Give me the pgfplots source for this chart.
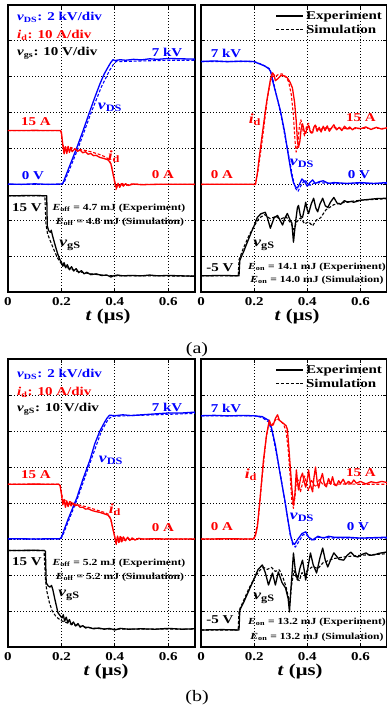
\documentclass[border=0pt]{standalone}
\usepackage{pgfplots}
\pgfplotsset{compat=1.18}
\usepackage{graphicx}
\usepackage{fontspec}
\setmainfont{Liberation Serif}
\newcommand{\fs}[1]{\fontsize{#1}{#1}\selectfont\bfseries}
\newcommand{\T}[1]{\scalebox{1.25}[1]{#1}}
\newcommand{\vDS}{\textit{v}\textsubscript{DS}}
\newcommand{\idd}{\textit{i}\textsubscript{d}}
\newcommand{\vgS}{\textit{v}\textsubscript{gS}}
\newcommand{\vgs}{\textit{v}\textsubscript{gs}}
\newcommand{\Eoff}{\textit{E}\textsubscript{off}}
\newcommand{\Eon}{\textit{E}\textsubscript{on}}
\pgfplotsset{
 panel/.style={scale only axis, width=187pt, height=287pt, xmin=0, xmax=0.7, ymin=0, ymax=8,
   xtick={0,0.2,0.4,0.6}, xticklabels={\T{0},\T{0.2},\T{0.4},\T{0.6}},
   ytick={1,2,3,4,5,6,7}, yticklabels={},
   grid=major, major grid style={black, line width=0.8pt, dash pattern=on 0.9pt off 2.1pt},
   tick align=inside, major tick length=4pt, tick style={black, line width=0.8pt},
   axis line style={line width=1.3pt},
   xticklabel style={font=\fs{12}, inner sep=0pt, yshift=-5pt},
   no markers, anchor=south west, clip=true},
 ex/.style={line width=1.3pt, line join=round, forget plot},
 si/.style={line width=1.1pt, dash pattern=on 3pt off 1.8pt, line join=round, forget plot},
 vds/.style={blue, y filter/.expression={y/2+3}},
 cur/.style={red, y filter/.expression={y/10+3}},
 vgsf/.style={black, y filter/.expression={0.45+(y+5)*0.1115}},
 leg/.style={legend style={draw=none, fill=none, at={(axis description cs:0.99,0.99)}, anchor=north east, font=\fs{12}, row sep=0pt, inner sep=1pt},
   legend cell align=left,
   legend image code/.code={\draw[##1] (0pt,0pt) -- (27pt,0pt);}},
}
\begin{document}
\begin{tikzpicture}
% ---------------- (a) left: turn-off
\begin{axis}[panel, at={(8pt,422pt)}]
\addplot[vds,ex] coordinates {(0,0.02) (0.05,0) (0.1,0.03) (0.15,0) (0.2,0.02) (0.206,0.08) (0.23,1.0) (0.258,2.06) (0.28,2.95) (0.307,4.1) (0.325,4.85) (0.344,5.6) (0.36,6.15) (0.375,6.55) (0.385,6.8) (0.393,6.95) (0.4,6.9) (0.42,6.95) (0.44,6.92) (0.47,6.97) (0.5,6.94) (0.53,7.0) (0.56,6.97) (0.6,7.02) (0.65,7.0) (0.7,6.98)};
\addplot[vds,si] coordinates {(0,0) (0.2,0) (0.21,0.1) (0.235,1.0) (0.262,2.0) (0.31,3.95) (0.35,5.45) (0.38,6.35) (0.395,6.7) (0.405,6.85) (0.43,6.85) (0.5,6.88) (0.6,6.92) (0.7,6.92)};
\addplot[cur,ex] coordinates {(0,15) (0.1,15.05) (0.195,15) (0.2,14.5) (0.205,11) (0.21,8.5) (0.215,10.5) (0.22,8.6) (0.225,10.6) (0.23,8.9) (0.235,10.2) (0.24,9.1) (0.25,9.9) (0.26,9.2) (0.27,9.6) (0.28,8.8) (0.29,9.1) (0.3,8.4) (0.31,8.6) (0.32,8.0) (0.33,8.1) (0.344,7.5) (0.36,7.2) (0.375,6.8) (0.385,5.8) (0.393,3) (0.402,0) (0.407,-1) (0.412,0.3) (0.418,-0.8) (0.424,0.2) (0.432,-0.5) (0.44,0.2) (0.45,-0.3) (0.47,0.1) (0.5,-0.1) (0.55,0) (0.6,0.05) (0.7,0)};
\addplot[cur,si] coordinates {(0,15) (0.198,15) (0.203,12) (0.21,9.8) (0.218,10.6) (0.226,9.7) (0.235,10.3) (0.25,9.8) (0.28,9.6) (0.31,9.1) (0.34,8.4) (0.36,7.8) (0.378,7) (0.388,5) (0.397,1.5) (0.404,-1.5) (0.41,0) (0.418,-0.8) (0.426,0.3) (0.44,-0.3) (0.46,0.1) (0.5,0) (0.7,0)};
\addplot[vgsf,ex] coordinates {(0,15) (0.1,15.1) (0.145,15) (0.147,7.5) (0.152,6.3) (0.158,5.9) (0.162,6.4) (0.166,5.2) (0.175,3) (0.185,0.7) (0.193,-0.8) (0.2,-1.6) (0.205,-2.6) (0.21,-1.7) (0.216,-3.0) (0.222,-2.2) (0.23,-3.5) (0.238,-2.7) (0.246,-3.8) (0.255,-3.2) (0.265,-4.2) (0.275,-3.7) (0.285,-4.5) (0.295,-4.1) (0.31,-4.7) (0.33,-4.5) (0.35,-4.9) (0.37,-4.8) (0.385,-5.3) (0.395,-5.0) (0.41,-4.8) (0.43,-5.0) (0.46,-4.9) (0.5,-5.0) (0.53,-4.8) (0.56,-5.0) (0.6,-4.9) (0.65,-5.0) (0.7,-5.1)};
\addplot[vgsf,si] coordinates {(0,15) (0.138,15) (0.142,8) (0.148,5.5) (0.158,3.8) (0.17,1.8) (0.185,-0.5) (0.2,-2.0) (0.21,-2.4) (0.22,-2.9) (0.24,-3.4) (0.26,-3.9) (0.3,-4.4) (0.35,-4.8) (0.4,-5.0) (0.5,-5) (0.7,-5.05)};
\end{axis}
% ---------------- (a) right: turn-on
\begin{axis}[panel, width=186pt, at={(201pt,422pt)}, leg]
\addlegendimage{black, line width=1.3pt}\addlegendentry{\fs{12}\T{Experiment}}
\addlegendimage{black, line width=1.1pt, dash pattern=on 3pt off 1.8pt}\addlegendentry{\fs{12}\T{Simulation}}
\addplot[vds,ex] coordinates {(0,6.85) (0.05,6.88) (0.1,6.84) (0.15,6.87) (0.197,6.85) (0.22,6.72) (0.24,6.6) (0.255,6.45) (0.262,6.3) (0.27,5.75) (0.285,4.9) (0.299,4.1) (0.315,2.9) (0.33,1.5) (0.34,0.6) (0.348,0.1) (0.356,-0.15) (0.363,-0.2) (0.37,0) (0.38,0.3) (0.39,0.15) (0.4,-0.1) (0.41,0.1) (0.42,0.25) (0.43,0.05) (0.445,0.15) (0.46,0.2) (0.48,0.05) (0.5,0.1) (0.55,0.05) (0.6,0.1) (0.65,0.05) (0.7,0.1)};
\addplot[vds,si] coordinates {(0,6.85) (0.2,6.85) (0.23,6.68) (0.258,6.45) (0.268,6.0) (0.3,3.95) (0.33,1.6) (0.345,0.4) (0.355,-0.2) (0.365,-0.4) (0.375,-0.1) (0.39,0.25) (0.41,-0.05) (0.43,0.1) (0.5,0.05) (0.7,0.05)};
\addplot[cur,ex] coordinates {(0,0) (0.1,0.05) (0.205,0) (0.212,3) (0.22,8) (0.231,14.2) (0.245,22) (0.254,26.1) (0.262,29.5) (0.269,31.1) (0.275,30.5) (0.28,28.9) (0.29,29.5) (0.3,30.3) (0.31,30.3) (0.325,29.7) (0.335,28.5) (0.344,26.9) (0.352,23) (0.358,18) (0.363,12.2) (0.367,10.3) (0.372,12) (0.377,15.5) (0.382,16.9) (0.388,15) (0.394,14.2) (0.4,15.8) (0.405,16.4) (0.41,15) (0.415,14.3) (0.42,14.4) (0.425,16) (0.43,16.5) (0.437,14.8) (0.445,15.9) (0.452,14.6) (0.46,16.2) (0.467,15) (0.475,16.3) (0.483,14.8) (0.49,15.6) (0.5,16.6) (0.51,15.2) (0.52,15.9) (0.53,15) (0.54,16.2) (0.55,15.4) (0.56,16) (0.57,15.2) (0.58,15.8) (0.6,15.5) (0.62,16) (0.64,15.3) (0.66,15.9) (0.68,15.4) (0.7,15.8)};
\addplot[cur,si] coordinates {(0,0) (0.205,0) (0.215,4) (0.23,12) (0.25,24) (0.262,29) (0.27,30.2) (0.28,30) (0.29,30.6) (0.305,30.8) (0.32,30) (0.33,28.5) (0.34,25) (0.348,19) (0.354,12) (0.358,9) (0.364,11) (0.37,16) (0.376,18) (0.384,15) (0.39,13.5) (0.398,16.5) (0.405,17) (0.412,14.5) (0.42,15) (0.43,16.5) (0.44,15.5) (0.45,15) (0.46,16) (0.48,15.4) (0.5,15.8) (0.55,15.5) (0.6,15.6) (0.7,15.6)};
\addplot[vgsf,ex] coordinates {(0,-5) (0.08,-4.9) (0.143,-5) (0.146,-1.2) (0.15,-0.5) (0.16,1) (0.175,3.5) (0.19,6) (0.2,7.5) (0.212,9.6) (0.225,10.5) (0.242,10.9) (0.25,9.5) (0.261,6.9) (0.275,9.5) (0.288,10.1) (0.307,7.7) (0.316,9.5) (0.325,10.6) (0.335,9) (0.342,8.2) (0.348,3.4) (0.355,8) (0.363,12.1) (0.367,12.6) (0.374,10) (0.382,9.6) (0.39,12) (0.394,13.4) (0.4,11.5) (0.405,10.6) (0.415,13) (0.424,14.4) (0.432,12) (0.439,11) (0.448,13) (0.458,14.4) (0.468,12.5) (0.477,12.1) (0.488,13.5) (0.5,14.6) (0.512,13.2) (0.526,12.9) (0.54,13.8) (0.552,13.4) (0.565,13.6) (0.575,13.4) (0.6,13.9) (0.63,14.1) (0.66,14.3) (0.7,14.4)};
\addplot[vgsf,si] coordinates {(0,-5) (0.14,-5) (0.143,-1) (0.16,2) (0.18,5) (0.2,7.5) (0.22,9.5) (0.24,10.3) (0.26,9.3) (0.28,9.8) (0.3,9.2) (0.32,9.8) (0.34,8.0) (0.35,6.5) (0.36,8.5) (0.375,9.5) (0.39,8) (0.405,8.5) (0.42,7.5) (0.435,9) (0.45,9.5) (0.47,11.5) (0.5,12.8) (0.55,13.5) (0.6,13.9) (0.7,14.3)};
\end{axis}
% ---------------- (b) left: turn-off
\begin{axis}[panel, height=288pt, at={(8pt,67pt)}]
\addplot[vds,ex] coordinates {(0,0.02) (0.1,0) (0.195,0.02) (0.2,0.1) (0.225,1.1) (0.258,2.3) (0.28,3.3) (0.307,4.4) (0.325,5.3) (0.344,6.0) (0.36,6.45) (0.37,6.7) (0.38,6.88) (0.4,6.85) (0.43,6.9) (0.46,6.86) (0.5,6.9) (0.55,6.95) (0.6,7.0) (0.65,7.0) (0.7,7.05)};
\addplot[vds,si] coordinates {(0,0) (0.197,0) (0.205,0.2) (0.26,2.25) (0.31,4.35) (0.35,6.0) (0.375,6.65) (0.39,6.82) (0.45,6.85) (0.55,6.9) (0.7,6.98)};
\addplot[cur,ex] coordinates {(0,15.2) (0.1,15.25) (0.19,15.2) (0.195,14.8) (0.2,12.5) (0.205,9.5) (0.21,11) (0.215,8.8) (0.22,10.6) (0.225,9) (0.23,10.3) (0.236,9.2) (0.243,10) (0.25,9.2) (0.26,9.5) (0.27,8.8) (0.281,8.8) (0.29,8.3) (0.3,8.4) (0.315,7.9) (0.33,7.6) (0.344,7.4) (0.36,7.0) (0.375,6.6) (0.385,5.5) (0.392,3) (0.4,0.5) (0.405,-1.5) (0.41,0.8) (0.415,-1) (0.42,0.7) (0.426,-0.8) (0.432,0.6) (0.44,-0.5) (0.448,0.5) (0.456,-0.4) (0.465,0.3) (0.475,-0.3) (0.49,0.2) (0.5,0) (0.55,0.05) (0.6,0) (0.7,0)};
\addplot[cur,si] coordinates {(0,15.2) (0.195,15.2) (0.2,13) (0.207,10) (0.214,10.8) (0.222,9.8) (0.232,10.4) (0.245,9.8) (0.27,9.4) (0.3,8.8) (0.33,8.1) (0.36,7.4) (0.378,6.8) (0.388,4.5) (0.397,1.5) (0.404,-1.2) (0.41,0.5) (0.418,-0.8) (0.425,0.5) (0.435,-0.4) (0.445,0.3) (0.46,-0.2) (0.48,0.1) (0.5,0) (0.7,0)};
\addplot[vgsf,ex] coordinates {(0,15) (0.1,15.05) (0.137,15) (0.14,14.8) (0.143,7) (0.15,6.2) (0.157,5.9) (0.163,6.3) (0.168,5.2) (0.175,3) (0.187,-0.5) (0.195,-1.2) (0.202,-1.8) (0.207,-1) (0.212,-2.6) (0.218,-1.6) (0.224,-3) (0.23,-2.2) (0.237,-3.5) (0.245,-2.8) (0.253,-3.8) (0.262,-3.2) (0.27,-4.1) (0.28,-3.7) (0.29,-4.3) (0.3,-4.1) (0.32,-4.5) (0.34,-4.3) (0.36,-4.6) (0.38,-4.4) (0.4,-4.8) (0.42,-4.4) (0.45,-4.6) (0.5,-4.5) (0.55,-4.6) (0.6,-4.4) (0.65,-4.6) (0.7,-4.5)};
\addplot[vgsf,si] coordinates {(0,15) (0.135,15) (0.14,8) (0.145,5) (0.155,2) (0.165,0) (0.18,-1.5) (0.2,-2.5) (0.22,-3) (0.25,-3.6) (0.3,-4.2) (0.35,-4.5) (0.4,-4.6) (0.7,-4.6)};
\end{axis}
% ---------------- (b) right: turn-on
\begin{axis}[panel, width=186pt, height=288pt, at={(201pt,67pt)}, leg]
\addlegendimage{black, line width=1.3pt}\addlegendentry{\fs{12}\T{Experiment}}
\addlegendimage{black, line width=1.1pt, dash pattern=on 3pt off 1.8pt}\addlegendentry{\fs{12}\T{Simulation}}
\addplot[vds,ex] coordinates {(0,6.85) (0.05,6.87) (0.1,6.84) (0.15,6.86) (0.197,6.85) (0.23,6.8) (0.254,6.6) (0.265,6.2) (0.28,5.2) (0.299,3.5) (0.315,2.2) (0.33,0.8) (0.337,0.2) (0.345,-0.2) (0.352,-0.3) (0.365,0) (0.38,0.3) (0.394,0.4) (0.405,0.1) (0.42,-0.05) (0.44,0.15) (0.46,0.05) (0.48,0.15) (0.5,0.1) (0.55,0.1) (0.6,0.05) (0.7,0.1)};
\addplot[vds,si] coordinates {(0,6.85) (0.2,6.85) (0.23,6.75) (0.255,6.5) (0.27,5.8) (0.3,3.5) (0.32,1.7) (0.335,0.3) (0.345,-0.3) (0.355,-0.45) (0.37,-0.1) (0.385,0.25) (0.4,0.2) (0.42,-0.1) (0.44,0.1) (0.5,0.05) (0.7,0.05)};
\addplot[cur,ex] coordinates {(0,0) (0.1,0.05) (0.197,0) (0.205,1) (0.212,3.3) (0.222,11) (0.235,21.9) (0.247,29) (0.257,33) (0.264,31.5) (0.272,31.7) (0.28,33.5) (0.288,34.5) (0.295,33) (0.303,32.5) (0.312,32) (0.32,31.5) (0.325,30.5) (0.33,26) (0.336,20) (0.342,14) (0.348,9.4) (0.353,12) (0.359,19.2) (0.363,16) (0.367,13.6) (0.375,17) (0.382,18.3) (0.388,16) (0.394,14.4) (0.4,16.5) (0.405,19.2) (0.412,15) (0.42,13.1) (0.425,17) (0.431,20) (0.437,16) (0.443,14.2) (0.45,16.5) (0.457,18.2) (0.465,15) (0.472,14.5) (0.48,16.8) (0.488,15.2) (0.495,17.3) (0.503,15) (0.51,14.8) (0.518,16.2) (0.525,15.4) (0.535,16.6) (0.545,15.2) (0.555,16) (0.565,15.3) (0.575,16.4) (0.585,15.5) (0.6,16) (0.62,15.3) (0.64,15.9) (0.66,15.6) (0.68,16) (0.7,15.7)};
\addplot[cur,si] coordinates {(0,0) (0.2,0) (0.215,5) (0.23,17) (0.245,28) (0.255,32) (0.265,31.5) (0.275,32.5) (0.285,33.5) (0.295,33) (0.31,32) (0.32,30) (0.328,25) (0.336,17) (0.342,10.5) (0.348,8.5) (0.354,12) (0.36,17) (0.368,16) (0.374,13) (0.382,15.5) (0.39,17.5) (0.398,15) (0.405,13.5) (0.415,16.5) (0.425,15) (0.435,14.5) (0.445,16.5) (0.46,15) (0.48,15.5) (0.5,15.2) (0.55,15.3) (0.6,15.2) (0.7,15.2)};
\addplot[vgsf,ex] coordinates {(0,-4.8) (0.08,-4.7) (0.143,-4.8) (0.146,0) (0.15,0.7) (0.16,2) (0.18,5) (0.2,8) (0.215,10.3) (0.231,11.4) (0.242,9.5) (0.254,6.4) (0.269,9.4) (0.28,6.4) (0.291,9.65) (0.305,7) (0.318,5.7) (0.328,3) (0.333,-0.3) (0.338,5) (0.348,14.4) (0.355,10) (0.363,7.65) (0.372,10.5) (0.382,12.6) (0.39,9.5) (0.394,7.65) (0.403,11) (0.412,14.4) (0.422,11.5) (0.435,9.4) (0.447,13) (0.458,15.6) (0.468,12.5) (0.477,10.9) (0.49,13) (0.5,14.4) (0.52,12.8) (0.537,12.6) (0.55,13.8) (0.564,14.6) (0.578,13.6) (0.59,13.4) (0.605,14) (0.621,14.4) (0.635,13.8) (0.651,13.9) (0.67,14.3) (0.696,14.6) (0.7,14.5)};
\addplot[vgsf,si] coordinates {(0,-4.8) (0.14,-4.8) (0.143,0) (0.16,2.5) (0.18,5.5) (0.2,8) (0.22,10) (0.235,10.8) (0.25,10.3) (0.265,10.8) (0.28,9.8) (0.295,10.2) (0.31,8) (0.32,6) (0.33,3) (0.335,2) (0.34,6) (0.35,10) (0.36,8) (0.37,7.5) (0.38,9.5) (0.39,8.8) (0.4,10) (0.42,11) (0.44,10.5) (0.46,12) (0.48,12.5) (0.5,13) (0.55,13.5) (0.6,13.8) (0.7,14.2)};
\end{axis}
% ---------------- annotations (a)
\begin{scope}[every node/.style={inner sep=0pt, font=\fs{12}}]
\node[blue, anchor=west] at (17pt,697pt) {\T{\vDS: 2 kV/div}};
\node[red, anchor=west] at (17pt,679pt) {\T{\idd: 10 A/div}};
\node[black, anchor=west] at (17pt,661pt) {\T{\vgs: 10 V/div}};
\node[blue] at (167pt,662pt) {\T{7 kV}};
\node[blue, font=\fs{14}] at (110pt,607pt) {\T{\vDS}};
\node[red] at (36pt,592pt) {\T{15 A}};
\node[red, font=\fs{14}] at (114pt,557pt) {\T{\idd}};
\node[blue] at (33pt,538pt) {\T{0 V}};
\node[red] at (163pt,539pt) {\T{0 A}};
\node[black] at (27pt,506pt) {\T{15 V}};
\node[font=\fs{9.3}] at (119pt,506pt) {\T{\Eoff\ = 4.7 mJ (Experiment)}};
\node[font=\fs{9.3}] at (120pt,492pt) {\T{\Eoff\ = 4.8 mJ (Simulation)}};
\node[font=\fs{14}] at (70pt,469pt) {\T{\vgS}};
\node[blue] at (226pt,661pt) {\T{7 kV}};
\node[red, font=\fs{14}] at (255pt,594pt) {\T{\idd}};
\node[red] at (361pt,596pt) {\T{15 A}};
\node[blue, font=\fs{14}] at (302pt,551pt) {\T{\vDS}};
\node[red] at (222pt,539pt) {\T{0 A}};
\node[blue] at (359pt,539pt) {\T{0 V}};
\node[black] at (220pt,446pt) {\T{-5 V}};
\node[font=\fs{14}] at (264pt,469pt) {\T{\vgS}};
\node[font=\fs{9.3}] at (317pt,447pt) {\T{\Eon\ = 14.1 mJ (Experiment)}};
\node[font=\fs{9.3}] at (317pt,434pt) {\T{\Eon\ = 14.0 mJ (Simulation)}};
\node[font=\fs{16.5}] at (108pt,397pt) {\T{\textit{t} (μs)}};
\node[font=\fs{16.5}] at (297pt,397pt) {\T{\textit{t} (μs)}};
\node[font=\fontsize{16}{16}\selectfont] at (197pt,364pt) {\T{(a)}};
% ---------------- annotations (b)
\node[blue, anchor=west] at (17pt,340pt) {\T{\vDS: 2 kV/div}};
\node[red, anchor=west] at (17pt,322pt) {\T{\idd: 10 A/div}};
\node[black, anchor=west] at (17pt,305pt) {\T{\vgS: 10 V/div}};
\node[blue] at (167pt,307pt) {\T{7 kV}};
\node[blue, font=\fs{14}] at (111pt,254pt) {\T{\vDS}};
\node[red] at (36pt,239pt) {\T{15 A}};
\node[red, font=\fs{14}] at (115pt,204pt) {\T{\idd}};
\node[red] at (163pt,186pt) {\T{0 A}};
\node[black] at (27pt,152pt) {\T{15 V}};
\node[font=\fs{9.3}] at (119pt,151pt) {\T{\Eoff\ = 5.2 mJ (Experiment)}};
\node[font=\fs{9.3}] at (120pt,137pt) {\T{\Eoff\ = 5.2 mJ (Simulation)}};
\node[font=\fs{14}] at (69pt,119pt) {\T{\vgS}};
\node[blue] at (226pt,306pt) {\T{7 kV}};
\node[red, font=\fs{14}] at (251pt,239pt) {\T{\idd}};
\node[red] at (361pt,241pt) {\T{15 A}};
\node[blue, font=\fs{14}] at (302pt,197pt) {\T{\vDS}};
\node[red] at (222pt,187pt) {\T{0 A}};
\node[blue] at (358pt,187pt) {\T{0 V}};
\node[black] at (220pt,94pt) {\T{-5 V}};
\node[font=\fs{14}] at (264pt,116pt) {\T{\vgS}};
\node[font=\fs{9.3}] at (317pt,92pt) {\T{\Eon\ = 13.2 mJ (Experiment)}};
\node[font=\fs{9.3}] at (317pt,77pt) {\T{\Eon\ = 13.2 mJ (Simulation)}};
\node[font=\fs{16.5}] at (106pt,42pt) {\T{\textit{t} (μs)}};
\node[font=\fs{16.5}] at (300pt,42pt) {\T{\textit{t} (μs)}};
\node[font=\fontsize{16}{16}\selectfont] at (197pt,16pt) {\T{(b)}};
\end{scope}
\pgfresetboundingbox
\useasboundingbox (0pt,0pt) rectangle (386pt,714pt);
\end{tikzpicture}
\end{document}
